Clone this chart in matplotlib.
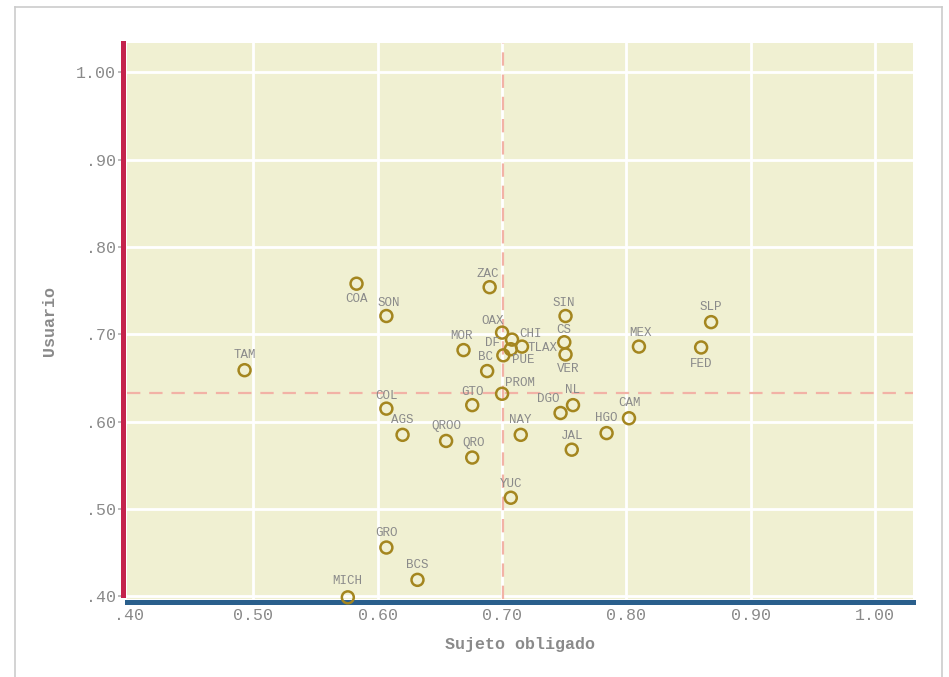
import matplotlib
matplotlib.use("Agg")
import matplotlib.pyplot as plt
from matplotlib.lines import Line2D

plt.rcParams["font.family"] = ["Liberation Mono", "DejaVu Sans Mono"]

# ---- data ----
states = ["TAM", "COA", "SON", "MICH", "GRO", "BCS", "COL", "AGS", "QROO", "QRO",
          "GTO", "MOR", "ZAC", "OAX", "BC", "CHI", "DF", "TLAX", "PUE", "PROM",
          "SIN", "CS", "VER", "MEX", "DGO", "NL", "CAM", "HGO", "JAL", "NAY",
          "FED", "SLP", "YUC"]
sujeto = [0.493, 0.583, 0.607, 0.576, 0.607, 0.632, 0.607, 0.620, 0.655, 0.676,
          0.676, 0.669, 0.690, 0.700, 0.688, 0.708, 0.707, 0.716, 0.701, 0.700,
          0.751, 0.750, 0.751, 0.810, 0.747, 0.757, 0.802, 0.784, 0.756, 0.715,
          0.860, 0.868, 0.707]
usuario = [0.659, 0.758, 0.721, 0.399, 0.456, 0.419, 0.615, 0.585, 0.578, 0.559,
           0.619, 0.682, 0.754, 0.702, 0.658, 0.694, 0.683, 0.686, 0.676, 0.632,
           0.721, 0.691, 0.677, 0.686, 0.610, 0.619, 0.604, 0.587, 0.568, 0.585,
           0.685, 0.714, 0.513]
mean_x = 0.7005
mean_y = 0.633
xticks = [0.40, 0.50, 0.60, 0.70, 0.80, 0.90, 1.00]
xticklabels = [".40", "0.50", "0.60", "0.70", "0.80", "0.90", "1.00"]
yticks = [0.40, 0.50, 0.60, 0.70, 0.80, 0.90, 1.00]
yticklabels = [".40", ".50", ".60", ".70", ".80", ".90", "1.00"]

# label offsets in pixels (dx right, dy down)
label_off = {
    "TAM": (0, -15), "COA": (0, 15), "SON": (2, -13), "MICH": (-1, -16),
    "GRO": (0, -15), "BCS": (0, -15), "COL": (0, -13), "AGS": (0, -15),
    "QROO": (0, -15), "QRO": (1, -15), "GTO": (0, -13), "MOR": (-2, -14),
    "ZAC": (-2, -13), "OAX": (-9, -12), "BC": (-2, -14), "CHI": (18, -6),
    "DF": (-18, -6), "TLAX": (21, 1), "PUE": (20, 5), "PROM": (18, -11),
    "SIN": (-2, -13), "CS": (-1, -12), "VER": (3, 15), "MEX": (2, -14),
    "DGO": (-12, -14), "NL": (0, -15), "CAM": (1, -15), "HGO": (0, -15),
    "JAL": (0, -14), "NAY": (0, -15), "FED": (0, 17), "SLP": (0, -15),
    "YUC": (0, -14),
}

W, H = 949, 677
fig = plt.figure(figsize=(W / 100, H / 100), dpi=100)
ax = fig.add_axes([127 / W, 1 - 599 / H, (913 - 127) / W, (599 - 43) / H])

bg = "#f0f0d2"
ax.set_facecolor(bg)
ax.set_xlim(0.3985, 1.0303)
ax.set_ylim(0.3971, 1.0335)

gray = "#8a8a8a"

ax.set_xticks(xticks)
ax.set_xticklabels(xticklabels)
ax.set_yticks(yticks)
ax.set_yticklabels(yticklabels)
ax.grid(True, axis="y", color="white", linewidth=2)
ax.grid(False, axis="x")
for xv in xticks[1:]:
    ax.axvline(xv, color="white", linewidth=2, zorder=0.5)
ax.set_axisbelow(True)

for s in ["top", "right"]:
    ax.spines[s].set_visible(False)
ax.spines["left"].set_color("#c4234c")
ax.spines["left"].set_linewidth(3.6)
ax.spines["left"].set_position(("outward", 3.2))
ax.spines["left"].set_bounds(0.402, 1.0335)
ax.spines["bottom"].set_color("#2a5f8c")
ax.spines["bottom"].set_linewidth(3.6)
ax.spines["bottom"].set_position(("outward", 2.4))

ax.tick_params(axis="y", length=3.6, width=1.2, color="#b0b0b0", pad=1,
               labelsize=12, labelcolor=gray)
ax.tick_params(axis="x", length=0, pad=4, labelsize=12, labelcolor=gray)

# reference lines
ax.axvline(mean_x, color="#f2b2a6", linewidth=1.6, dashes=(6, 4), zorder=2)
ax.axhline(mean_y, color="#f2b2a6", linewidth=1.6, dashes=(6, 4), zorder=2)

ax.scatter(sujeto, usuario, s=74, facecolors="none", edgecolors="#a4861f",
           linewidths=1.8, zorder=4, clip_on=False)

for name, x, y in zip(states, sujeto, usuario):
    dx, dy = label_off[name]
    ax.annotate(name, (x, y), xytext=(dx * 0.72, -dy * 0.72),
                textcoords="offset points", ha="center", va="center",
                fontsize=9, color=gray, zorder=5, annotation_clip=False)

ax.set_xlabel("Sujeto obligado", fontsize=12, fontweight="bold", color=gray,
              labelpad=10)
ax.set_ylabel("Usuario", fontsize=12, fontweight="bold", color=gray,
              labelpad=14)

# outer frame
frame_col = "#cccccc"
fig.add_artist(Line2D([15 / W, 15 / W], [0, 1 - 7 / H], transform=fig.transFigure,
                      color=frame_col, linewidth=1.2))
fig.add_artist(Line2D([942 / W, 942 / W], [0, 1 - 7 / H], transform=fig.transFigure,
                      color=frame_col, linewidth=1.2))
fig.add_artist(Line2D([15 / W, 942 / W], [1 - 7 / H, 1 - 7 / H],
                      transform=fig.transFigure, color=frame_col, linewidth=1.2))

fig.savefig("out.png", dpi=100)
